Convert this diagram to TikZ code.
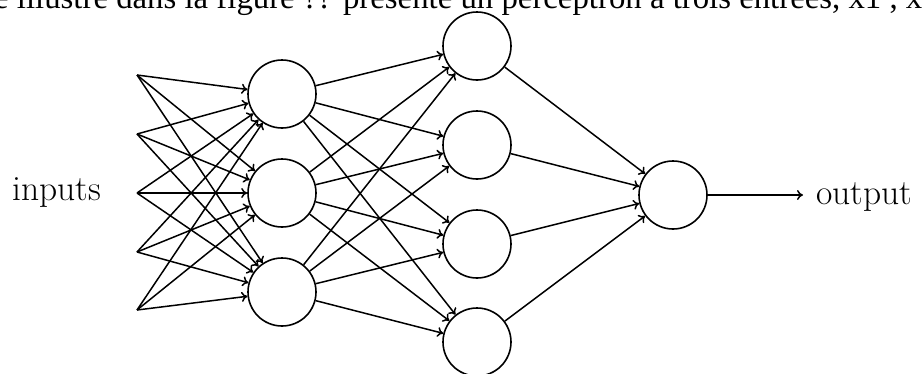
\documentclass[tikz,border=0pt]{standalone}
\usepackage{fontspec}
\newfontfamily\timesfont{Liberation Serif}
\usetikzlibrary{arrows.meta}
\begin{document}
\begin{tikzpicture}[x=1pt,y=-1pt,
  neuron/.style={circle,draw,line width=1.6pt,minimum size=68pt,inner sep=0pt},
  conn/.style={line width=1.5pt,-{To[length=6pt,width=10pt]}},
  lbl/.style={font=\fontsize{35.5}{42}\selectfont,inner sep=0pt}]
\useasboundingbox (0,0) rectangle (922,373);
\node[anchor=base west,inner sep=0pt,font=\timesfont\fontsize{32.8}{38}\selectfont] (cap) at (-6,8) {e illustré dans la figure ?? présente un perceptron à trois entrées, x1 , x};
% inputs
\coordinate (i1) at (137,75);
\coordinate (i2) at (137,134);
\coordinate (i3) at (137,193);
\coordinate (i4) at (137,252);
\coordinate (i5) at (137,310);
% hidden layer 1
\node[neuron] (a1) at (282,94) {};
\node[neuron] (a2) at (282,193) {};
\node[neuron] (a3) at (282,292) {};
% hidden layer 2
\node[neuron] (b1) at (477,46) {};
\node[neuron] (b2) at (477,145) {};
\node[neuron] (b3) at (477,244) {};
\node[neuron] (b4) at (477,342) {};
% output
\node[neuron] (o) at (673,195) {};
\node[lbl,anchor=base west] (inp) at (12,200) {inputs};
\node[lbl,anchor=base west] (out) at (816,204) {output};
\coordinate (oe) at (803,195);
\foreach \i in {1,...,5}
  \foreach \j in {1,2,3}
    \draw[conn] (i\i) -- (a\j);
\foreach \i in {1,2,3}
  \foreach \j in {1,...,4}
    \draw[conn] (a\i) -- (b\j);
\foreach \j in {1,...,4}
  \draw[conn] (b\j) -- (o);
\draw[conn] (o) -- (oe);
\end{tikzpicture}
\end{document}
